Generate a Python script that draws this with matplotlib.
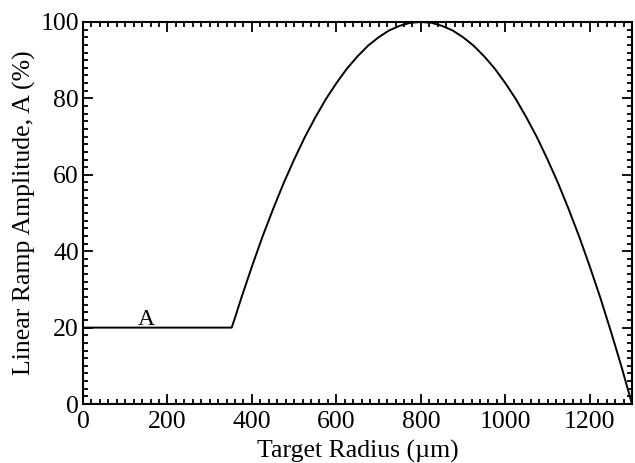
import matplotlib
matplotlib.use('Agg')
import matplotlib.pyplot as plt
from matplotlib.ticker import MultipleLocator

plt.rcParams['font.family'] = ['Liberation Serif', 'DejaVu Serif']

# Ramp amplitude vs target radius (flat section, then the rise and fall)
radius = [0, 352, 360, 375, 400, 425, 450, 475, 500, 525, 550, 575, 600,
          625, 650, 675, 700, 725, 750, 775, 800, 825, 850, 875, 900, 925,
          950, 975, 1000, 1025, 1050, 1075, 1100, 1125, 1150, 1175, 1200,
          1225, 1250, 1275, 1300]
amplitude = [20, 20, 22.6, 27.8, 36, 43.8, 51, 57.8, 64, 69.8, 75, 79.8, 84,
             87.8, 91, 93.8, 96, 97.8, 99, 99.8, 100, 99.8, 99, 97.8, 96, 93.8,
             91, 87.8, 84, 79.8, 75, 69.8, 64, 57.8, 51, 43.8, 36,
             27.8, 19, 9.8, 0]

fig = plt.figure(figsize=(6.35, 4.63), dpi=100)
ax = fig.add_axes([0.1307, 0.1274, 0.8646, 0.8251])

ax.plot(radius, amplitude, color='black', lw=1.4)
ax.text(150, 20.6, 'A', fontsize=17, ha='center', va='baseline')

ax.set_xlim(0, 1300)
ax.set_ylim(0, 100)
ax.xaxis.set_major_locator(MultipleLocator(200))
ax.xaxis.set_minor_locator(MultipleLocator(20))
ax.yaxis.set_major_locator(MultipleLocator(20))
ax.yaxis.set_minor_locator(MultipleLocator(2))
ax.tick_params(which='both', direction='in', top=True, right=True,
               labelsize=18.5, width=1.3)
ax.tick_params(axis='x', pad=5)
ax.tick_params(axis='y', pad=3)
ax.tick_params(which='major', length=7)
ax.tick_params(which='minor', length=3.5)
for s in ax.spines.values():
    s.set_linewidth(1.5)

ax.set_xlabel('Target Radius (µm)', fontsize=18.5, labelpad=5)
ax.set_ylabel('Linear Ramp Amplitude, A (%)', fontsize=18.5, labelpad=3)

fig.savefig('out.png', dpi=100)
